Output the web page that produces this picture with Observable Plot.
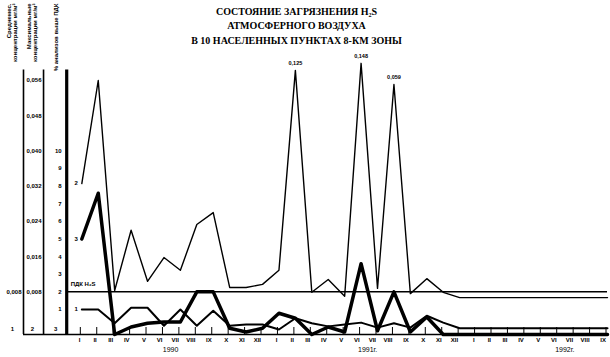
<!DOCTYPE html>
<html><head><meta charset="utf-8">
<script src="https://cdn.jsdelivr.net/npm/d3@7"></script>
<script src="https://cdn.jsdelivr.net/npm/@observablehq/plot@0.6"></script>
<style>
html,body{margin:0;padding:0;background:#fff;}
#chart svg{display:block;}
</style></head><body>
<div id="chart"></div>
<script>
// ---- data ----
const months = ["I","II","III","IV","V","VI","VII","VIII","IX","X","XI","XII",
  "I","II","III","IV","V","VI","VII","VIII","IX","X","XI","XII",
  "I","II","III","IV","V","VI","VII","VIII","IX"];
const years = ["1990", "1991г.", "1992г."];
const yearCenters = [5.4, 17.4, 29.4]; // month index under each year label

// 1 — average monthly concentration, mg/m3
const avgConc = [0.0040, 0.0040, 0.0018, 0.0044, 0.0044, 0.0014, 0.0040, 0.0014, 0.0038, 0.0014, 0.0016, 0.0016,
  0.0008, 0.0026, 0.0018, 0.0013, 0.0016, 0.0019, 0.0011, 0.0018, 0.0011, 0.0030, 0.0019, 0.0010,
  0.0010, 0.0010, 0.0010, 0.0010, 0.0010, 0.0010, 0.0010, 0.0010, 0.0010];
// 2 — maximum concentration, mg/m3 (off-scale peaks drawn at chart top, true value labelled)
const maxConc = [0.0326, 0.0560, 0.0083, 0.0220, 0.0104, 0.0158, 0.0129, 0.0233, 0.0260, 0.0090, 0.0090, 0.0097,
  0.0129, 0.0583, 0.0079, 0.0108, 0.0070, 0.0599, 0.0088, 0.0551, 0.0076, 0.0110, 0.0079, 0.0067,
  0.0067, 0.0067, 0.0067, 0.0067, 0.0067, 0.0067, 0.0067, 0.0067, 0.0067];
const peakIndex = [13, 17, 19];
const peakLabels = ["0,125", "0,148", "0,059"];
// 3 — % of analyses above PDK
const pctAbove = [5.0, 7.6, 0, 0.3, 0.45, 0.5, 0.5, 2.0, 2.0, 0.25, 0.1, 0.25,
  0.85, 0.65, 0, 0.3, 0.1, 3.6, 0.15, 2.0, 0.1, 0.7, 0, 0,
  0, 0, 0, 0, 0, 0, 0, 0, 0];
const pdk = 0.008;
const maxTicks = [0.008, 0.016, 0.024, 0.032, 0.040, 0.048, 0.056];
const pctTicks = [1, 2, 3, 4, 5, 6, 7, 8, 9, 10];
const axisNames = ["1", "2", "3"];
const axisTitles = ["Среднемес.\nконцентрации мг/м³", "Максимальные\nконцентрации мг/м³", "% анализов выше ПДК"];
const title = "СОСТОЯНИЕ ЗАГРЯЗНЕНИЯ H₂S\nАТМОСФЕРНОГО ВОЗДУХА\nВ 10 НАСЕЛЕННЫХ ПУНКТАХ 8-КМ ЗОНЫ";

// ---- layout ----
const mgPerUnit = 0.004;                 // 0,008 mg/m3 ↔ 2 %
const axisAt = [-3.55, -2.33, -0.92];    // x (month-index units) of the three left axes
const axisTopU = 14.6;
const lowStretch = 1.42;                 // the 0–1 band of the original axis is drawn taller
const yWarp = u => u <= 1 ? u * lowStretch : lowStretch + (u - 1);
const toU = mg => mg / mgPerUnit;
const comma = v => v.toFixed(3).replace(".", ",");

const rows = months.map((m, i) => ({i, m, avg: toU(avgConc[i]), max: toU(maxConc[i]), pct: pctAbove[i]}));
const sans = "'Liberation Sans Narrow','Liberation Sans',Arial,sans-serif";
const serif = "'Liberation Serif','Times New Roman',serif";

const chart = Plot.plot({
  width: 610, height: 357,
  marginLeft: 23, marginRight: 3, marginTop: 0, marginBottom: 23,
  x: {domain: [-3.55, 32], range: [23, 607], axis: null, label: null},
  y: {transform: yWarp, domain: [0, yWarp(14)], range: [334, 80], axis: null, label: null},
  style: {background: "#fff", color: "#000", fontFamily: sans},
  marks: [
    // title
    Plot.text([title], {frameAnchor: "top", text: d => d,
      lineAnchor: "top", lineHeight: 1.45, dx: -19, dy: 4, fontSize: 10, fontWeight: "bold", fontFamily: serif}),
    // axis titles (rotated)
    Plot.text(axisTitles, {x: (d, j) => axisAt[j], frameAnchor: "top", text: d => d, rotate: -90,
      textAnchor: "end", lineAnchor: "middle", lineHeight: 1.0, dx: -11, dy: 3, fontSize: 6, fontWeight: "bold"}),
    // vertical axes
    Plot.ruleX([axisAt[0], axisAt[1]], {y1: 0, y2: axisTopU, strokeWidth: 1.6}),
    Plot.ruleX([axisAt[2]], {y1: 0, y2: axisTopU, strokeWidth: 3.2}),
    // x axis baseline
    Plot.ruleY([0], {strokeWidth: 1.4}),
    // PDK line
    Plot.ruleY([toU(pdk)], {x1: axisAt[2], x2: 32, strokeWidth: 1.5}),
    Plot.text([pdk], {x: axisAt[2], y: d => toU(d), text: () => "ПДК H₂S", textAnchor: "start", dx: 4, dy: -8, fontSize: 6, fontWeight: "bold"}),
    // axis tick labels
    Plot.text([pdk], {x: axisAt[0], y: d => toU(d), text: comma, textAnchor: "end", dx: -2, fontSize: 6, fontWeight: "bold"}),
    Plot.text(maxTicks, {x: axisAt[1], y: d => toU(d), text: comma, textAnchor: "end", dx: -2, fontSize: 6, fontWeight: "bold"}),
    Plot.text(pctTicks, {x: axisAt[2], y: d => d, text: d => String(d), textAnchor: "end", dx: -5, fontSize: 6, fontWeight: "bold"}),
    Plot.text(axisNames, {x: (d, j) => axisAt[j], y: 0, text: d => d, dx: -11, dy: -5, fontSize: 6, fontWeight: "bold"}),
    // month axis
    Plot.axisX(d3.range(months.length), {anchor: "bottom", label: null, tickSize: 7, tickFormat: i => months[i],
      textAnchor: "end", dx: -1.5, dy: -7, fontSize: 6, fontWeight: "bold", strokeWidth: 1}),
    Plot.text(years, {x: (d, j) => yearCenters[j], frameAnchor: "bottom", text: d => d, dy: 17, fontSize: 7}),
    // series
    Plot.line(rows, {x: "i", y: "max", stroke: "#000", strokeWidth: 1.4}),
    Plot.line(rows, {x: "i", y: "avg", stroke: "#000", strokeWidth: 2}),
    Plot.line(rows, {x: "i", y: "pct", stroke: "#000", strokeWidth: 3.5}),
    // series numbers
    Plot.text([rows[0]], {x: "i", y: "max", text: () => "2", textAnchor: "end", dx: -4, fontSize: 6, fontWeight: "bold"}),
    Plot.text([rows[0]], {x: "i", y: "avg", text: () => "1", textAnchor: "end", dx: -4, fontSize: 6, fontWeight: "bold"}),
    Plot.text([rows[0]], {x: "i", y: "pct", text: () => "3", textAnchor: "end", dx: -4, fontSize: 6, fontWeight: "bold"}),
    // off-scale peak values
    Plot.text(peakIndex, {x: d => d, y: d => toU(maxConc[d]), text: (d, j) => peakLabels[j], dy: -7, fontSize: 5.5, fontWeight: "bold"})
  ]
});
document.getElementById("chart").append(chart);
</script>
</body></html>
